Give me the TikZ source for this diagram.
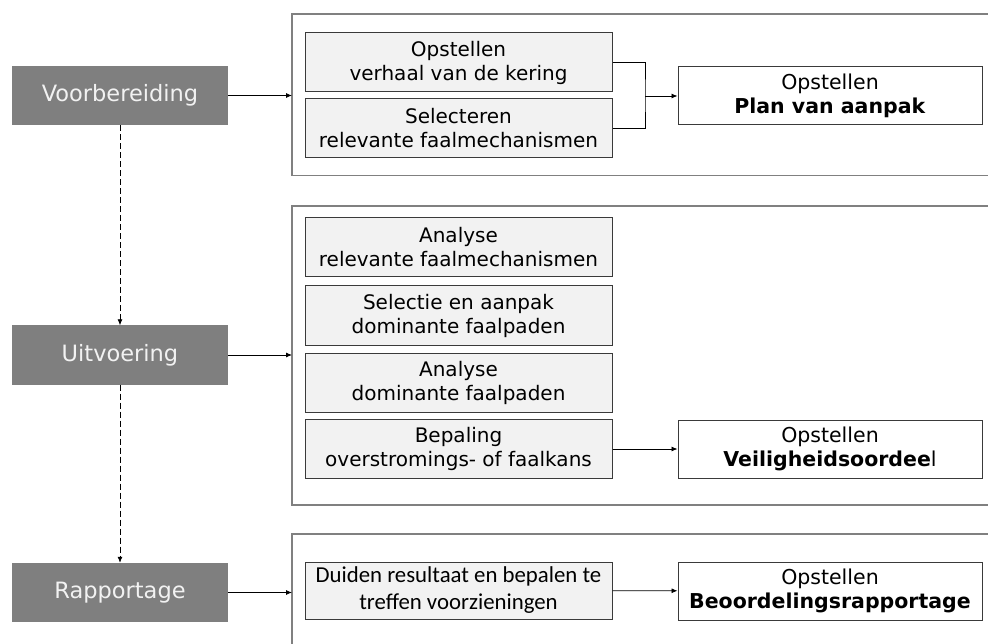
\documentclass[tikz,border=0pt]{standalone}
\usepackage{fontspec}
\setmainfont{DejaVu Sans}
\newfontfamily\carlito{Carlito}
\usetikzlibrary{arrows.meta}

\definecolor{phasegray}{HTML}{7F7F7F}
\definecolor{phasetext}{HTML}{F2F2F2}
\definecolor{stepfill}{HTML}{F2F2F2}
\definecolor{boxline}{HTML}{3A3A3A}
\definecolor{framegray}{HTML}{808080}

\tikzset{
  phase/.style={fill=phasegray, text=phasetext, minimum width=216pt, minimum height=59pt,
    inner sep=0pt, font=\fontsize{22.5}{27}\selectfont},
  stepbox/.style={draw=boxline, fill=stepfill, line width=1pt, minimum width=307pt,
    minimum height=59pt, inner sep=0pt, align=center, font=\fontsize{20}{24}\selectfont},
  resultbox/.style={draw=boxline, fill=white, line width=1pt, minimum width=304pt,
    minimum height=58pt, inner sep=0pt, align=center, font=\fontsize{20.5}{24}\selectfont},
  frame/.style={draw=framegray, line width=1.3pt},
  flow/.style={-{Latex[length=6pt,width=5pt]}, line width=0.8pt},
}

\begin{document}
\begin{tikzpicture}[x=1pt, y=-1pt]
  \useasboundingbox[fill=white] (0,0) rectangle (988,644);

  % phases on the left
  \node[phase] (voor) at (120,95.5) {Voorbereiding};
  \node[phase] (uit) at (120,355) {Uitvoering};
  \node[phase] (rap) at (120,592.5) {Rapportage};
  \draw[flow, dashed, dash pattern=on 6pt off 3pt] (voor) -- (uit);
  \draw[flow, dashed, dash pattern=on 6pt off 3pt] (uit) -- (rap);

  % open frames, running off the right edge
  \draw[frame] (988,14) -- (292,14) -- (292,175.5) -- (988,175.5);
  \draw[frame] (988,206) -- (292,206) -- (292,505) -- (988,505);
  \draw[frame] (988,534) -- (292,534) -- (292,644);
  \coordinate (in1) at (292,95.5);
  \coordinate (in2) at (292,355);
  \coordinate (in3) at (292,592.5);
  \draw[flow] (voor) -- (in1);
  \draw[flow] (uit) -- (in2);
  \draw[flow] (rap) -- (in3);

  % Voorbereiding
  \node[stepbox] (verhaal) at (458.5,62.5) {Opstellen\\verhaal van de kering};
  \node[stepbox] (select) at (458.5,128.5) {Selecteren\\relevante faalmechanismen};
  \node[resultbox] (plan) at (830,96) {Opstellen\\\textbf{Plan van aanpak}};
  \coordinate (join) at (645,96);
  \draw[line width=0.8pt] (verhaal.east) -| (join) |- (select.east);
  \draw[flow] (join) -- (plan);

  % Uitvoering
  \node[stepbox] (analyse) at (458.5,247.5) {Analyse\\relevante faalmechanismen};
  \node[stepbox] (selectie) at (458.5,315.5) {Selectie en aanpak\\dominante faalpaden};
  \node[stepbox] (paden) at (458.5,382.5) {Analyse\\dominante faalpaden};
  \node[stepbox] (kans) at (458.5,449) {Bepaling\\overstromings- of faalkans};
  \node[resultbox] (oordeel) at (830,449) {Opstellen\\\textbf{Veiligheidsoordee}l};
  \draw[flow] (kans) -- (oordeel);

  % Rapportage
  \node[stepbox, minimum height=57pt, font=\carlito\fontsize{22.8}{27}\selectfont] (duiden) at (458.5,590.5)
    {Duiden resultaat en bepalen te\\treffen voorzieningen};
  \node[resultbox] (rapport) at (830,591) {Opstellen\\\textbf{Beoordelingsrapportage}};
  \draw[flow] (duiden) -- (rapport);
\end{tikzpicture}
\end{document}
